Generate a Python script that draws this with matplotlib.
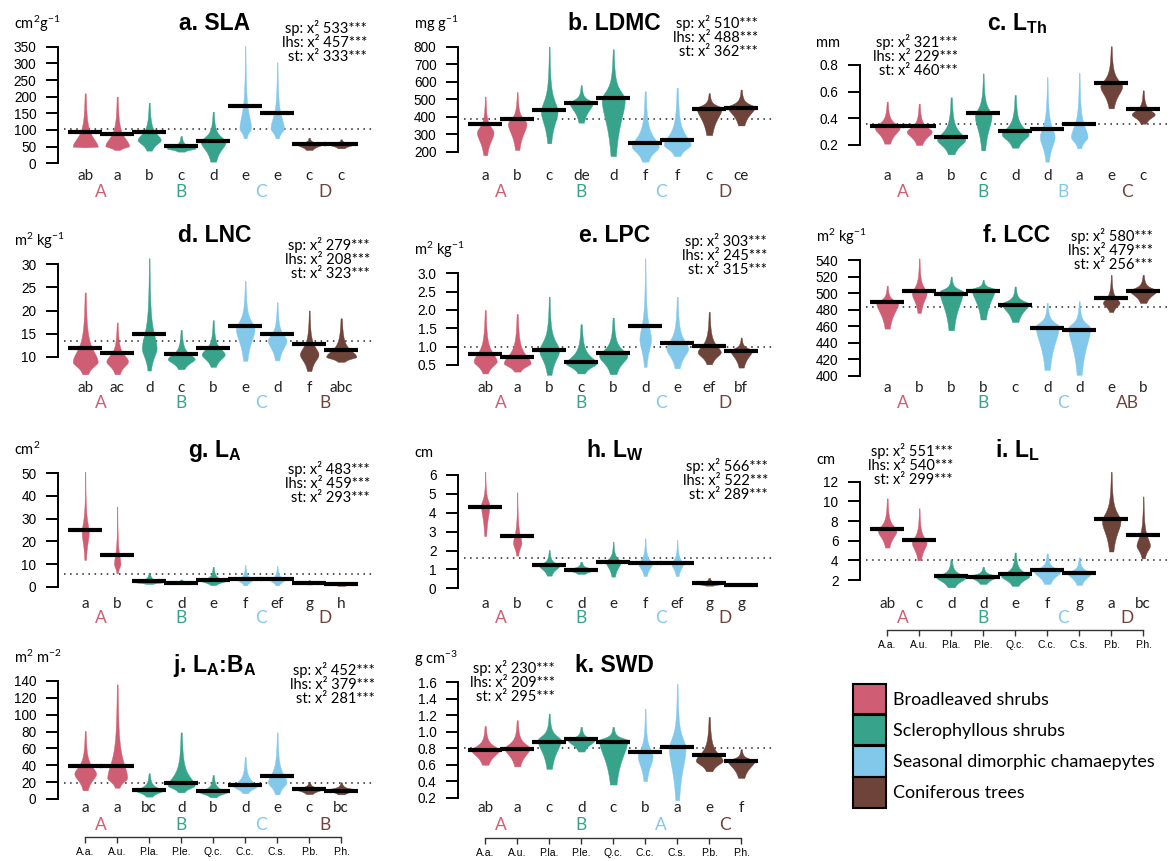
import numpy as np
import matplotlib.pyplot as plt
from matplotlib.patches import Patch
from matplotlib.ticker import FormatStrFormatter
from matplotlib import transforms

plt.rcParams['font.family'] = ['Liberation Sans', 'DejaVu Sans']
plt.rcParams['mathtext.fontset'] = 'custom'
plt.rcParams['mathtext.rm'] = 'Lato'
plt.rcParams['mathtext.it'] = 'Lato:italic'
plt.rcParams['mathtext.bf'] = 'Liberation Sans:bold'

# species and functional groups
species = ['A.a.', 'A.u.', 'P.la.', 'P.le.', 'Q.c.', 'C.c.', 'C.s.', 'P.b.', 'P.h.']
group = [0, 0, 1, 1, 1, 2, 2, 3, 3]
group_names = ['Broadleaved shrubs', 'Sclerophyllous shrubs',
               'Seasonal dimorphic chamaepytes', 'Coniferous trees']
colors = ['#CF5E74', '#37A38A', '#82C8EA', '#6E433A']
group_x = [1.5, 4, 6.5, 8.5]

# a. SLA
sla_mean = [95, 88, 93, 53, 66, 172, 152, 57, 58]
sla_lo = [48, 40, 38, 35, 5, 75, 75, 40, 45]
sla_mode = [50, 52, 70, 45, 65, 105, 105, 58, 58]
sla_hi = [210, 200, 182, 82, 155, 352, 303, 77, 72]
sla_wid = [0.39, 0.37, 0.36, 0.45, 0.39, 0.18, 0.21, 0.42, 0.44]
sla_letters = ['ab', 'a', 'b', 'c', 'd', 'e', 'e', 'c', 'c']
sla_groups = ['A', 'B', 'C', 'D']
sla_chi = [533, 457, 333]
sla_all = 102

# b. LDMC
ldmc_mean = [358, 385, 440, 480, 505, 252, 268, 445, 452]
ldmc_lo = [180, 210, 248, 366, 175, 143, 175, 295, 350]
ldmc_mode = [310, 360, 430, 480, 500, 230, 240, 450, 455]
ldmc_hi = [515, 540, 800, 580, 785, 545, 565, 535, 555]
ldmc_wid = [0.26, 0.29, 0.26, 0.36, 0.36, 0.42, 0.42, 0.39, 0.42]
ldmc_letters = ['a', 'b', 'c', 'de', 'd', 'f', 'f', 'c', 'ce']
ldmc_groups = ['A', 'B', 'C', 'D']
ldmc_chi = [510, 488, 362]
ldmc_all = 388

# c. leaf thickness
lth_mean = [0.343, 0.34, 0.26, 0.437, 0.305, 0.32, 0.36, 0.667, 0.47]
lth_lo = [0.21, 0.2, 0.13, 0.16, 0.18, 0.075, 0.175, 0.475, 0.36]
lth_mode = [0.33, 0.3, 0.24, 0.42, 0.28, 0.26, 0.26, 0.64, 0.43]
lth_hi = [0.525, 0.51, 0.557, 0.737, 0.575, 0.71, 0.74, 0.94, 0.61]
lth_wid = [0.39, 0.39, 0.44, 0.26, 0.42, 0.23, 0.26, 0.34, 0.36]
lth_letters = ['a', 'a', 'b', 'c', 'd', 'd', 'a', 'e', 'c']
lth_groups = ['A', 'B', 'B', 'C']
lth_chi = [321, 229, 460]
lth_all = 0.357

# d. LNC
lnc_mean = [11.8, 10.9, 14.9, 10.6, 11.95, 16.6, 14.9, 12.7, 11.5]
lnc_lo = [6.2, 6.2, 7.0, 7.3, 7.8, 9.1, 9.2, 6.9, 8.9]
lnc_mode = [8.9, 9.0, 11.8, 9.5, 10.5, 16.0, 13.5, 10.5, 10.0]
lnc_hi = [23.9, 17.4, 31.3, 15.8, 17.9, 26.4, 21.8, 20.0, 18.3]
lnc_wid = [0.39, 0.34, 0.23, 0.42, 0.36, 0.29, 0.29, 0.29, 0.47]
lnc_letters = ['ab', 'ac', 'd', 'c', 'b', 'e', 'd', 'f', 'abc']
lnc_groups = ['A', 'B', 'C', 'B']
lnc_chi = [279, 208, 323]
lnc_all = 13.4

# e. LPC
lpc_mean = [0.79, 0.73, 0.91, 0.59, 0.84, 1.55, 1.09, 1.03, 0.88]
lpc_lo = [0.27, 0.32, 0.23, 0.27, 0.25, 0.45, 0.41, 0.52, 0.43]
lpc_mode = [0.6, 0.55, 0.9, 0.55, 0.75, 1.2, 0.95, 0.85, 0.9]
lpc_hi = [2.0, 1.89, 2.36, 1.61, 1.79, 3.41, 2.36, 1.95, 1.25]
lpc_wid = [0.36, 0.42, 0.31, 0.48, 0.44, 0.18, 0.34, 0.36, 0.34]
lpc_letters = ['ab', 'a', 'b', 'c', 'b', 'd', 'e', 'ef', 'bf']
lpc_groups = ['A', 'B', 'C', 'D']
lpc_chi = [303, 245, 315]
lpc_all = 1.0

# f. LCC
lcc_mean = [489, 502, 499, 502.5, 486, 458, 455, 494, 502.5]
lcc_lo = [457, 476, 455, 468, 465, 407, 401, 477, 488]
lcc_mode = [488, 500, 502, 505, 487, 460, 458, 488, 503]
lcc_hi = [509, 542, 520, 516, 508, 488, 490, 522, 522]
lcc_wid = [0.34, 0.23, 0.36, 0.36, 0.42, 0.36, 0.34, 0.26, 0.42]
lcc_letters = ['a', 'b', 'b', 'b', 'c', 'd', 'd', 'e', 'b']
lcc_groups = ['A', 'B', 'C', 'AB']
lcc_chi = [580, 479, 256]
lcc_all = 483.5

# g. leaf area
la_mean = [25, 14, 2.5, 1.8, 3.1, 3.5, 3.5, 1.6, 1.0]
la_lo = [11.8, 5.9, 1.2, 1.2, 0.7, 0.6, 0.6, 1.0, 0.4]
la_mode = [24, 10, 2.0, 2.0, 2.5, 3.0, 3.0, 1.8, 1.1]
la_hi = [50.7, 35.3, 6.2, 3.2, 8.8, 9.5, 9.1, 2.9, 1.8]
la_wid = [0.11, 0.10, 0.44, 0.47, 0.36, 0.23, 0.23, 0.39, 0.42]
la_letters = ['a', 'b', 'c', 'd', 'e', 'f', 'ef', 'g', 'h']
la_groups = ['A', 'B', 'C', 'D']
la_chi = [483, 459, 293]
la_all = 5.6

# h. leaf width
lw_mean = [4.29, 2.79, 1.24, 0.97, 1.41, 1.32, 1.36, 0.26, 0.18]
lw_lo = [2.77, 1.73, 0.67, 0.76, 0.62, 0.65, 0.65, 0.14, 0.14]
lw_mode = [4.4, 2.4, 1.2, 1.0, 1.4, 1.3, 1.3, 0.25, 0.2]
lw_hi = [6.18, 5.08, 2.03, 1.41, 2.47, 2.65, 2.56, 0.56, 0.3]
lw_wid = [0.13, 0.13, 0.31, 0.47, 0.23, 0.21, 0.18, 0.47, 0.42]
lw_letters = ['a', 'b', 'c', 'd', 'e', 'f', 'ef', 'g', 'g']
lw_groups = ['A', 'B', 'C', 'D']
lw_chi = [566, 522, 289]
lw_all = 1.59

# i. leaf length
ll_mean = [7.15, 6.1, 2.44, 2.35, 2.6, 3.0, 2.75, 8.2, 6.6]
ll_lo = [5.3, 4.0, 1.25, 1.6, 1.4, 1.6, 1.5, 4.9, 4.2]
ll_mode = [7.0, 5.8, 2.3, 2.4, 2.4, 2.9, 2.7, 8.0, 5.5]
ll_hi = [10.3, 9.3, 4.1, 3.35, 4.8, 4.7, 4.3, 13.0, 10.5]
ll_wid = [0.29, 0.23, 0.47, 0.44, 0.44, 0.42, 0.36, 0.29, 0.21]
ll_letters = ['ab', 'c', 'd', 'd', 'e', 'f', 'g', 'a', 'bc']
ll_groups = ['A', 'B', 'C', 'D']
ll_chi = [551, 540, 299]
ll_all = 4.0

# j. leaf area : basal area
lab_mean = [39, 39, 10.3, 18.6, 9.5, 16.6, 27.7, 11.5, 9.9]
lab_lo = [10.3, 13.4, 2.8, 7.9, 2.0, 6.7, 5.5, 5.9, 5.5]
lab_mode = [30, 25, 10, 16, 8, 15, 20, 12, 11]
lab_hi = [80.7, 136, 30.5, 79, 28.5, 50, 79, 20.6, 19.8]
lab_wid = [0.34, 0.31, 0.42, 0.42, 0.42, 0.36, 0.29, 0.44, 0.47]
lab_letters = ['a', 'a', 'bc', 'd', 'b', 'd', 'e', 'c', 'bc']
lab_groups = ['A', 'B', 'C', 'B']
lab_chi = [452, 379, 281]
lab_all = 19.4

# k. SWD
swd_mean = [0.78, 0.79, 0.87, 0.91, 0.87, 0.75, 0.81, 0.72, 0.65]
swd_lo = [0.6, 0.58, 0.55, 0.76, 0.36, 0.4, 0.17, 0.52, 0.44]
swd_mode = [0.78, 0.8, 0.9, 0.9, 0.9, 0.7, 0.8, 0.65, 0.65]
swd_hi = [1.07, 1.14, 1.22, 1.06, 1.06, 1.28, 1.58, 1.18, 0.79]
swd_wid = [0.44, 0.39, 0.36, 0.42, 0.44, 0.23, 0.26, 0.42, 0.42]
swd_letters = ['ab', 'a', 'c', 'd', 'c', 'b', 'a', 'e', 'f']
swd_groups = ['A', 'B', 'A', 'C']
swd_chi = [230, 209, 295]
swd_all = 0.8

W, H = 1171, 861
SPINE = [58, 458, 860]
TITLE_Y = [30, 242, 457, 672]
LETTER_Y = [180, 392, 608, 812]
GROUP_Y = [197, 408, 623, 830]
MYR = ['Lato', 'DejaVu Sans']


def fx(px):
    return px / W


def fy(py):
    return 1 - py / H


panels = [
    dict(title='a. SLA', unit=r'cm$^2$g$^{-1}$', row=0, col=0,
         mean=sla_mean, lo=sla_lo, mode=sla_mode, hi=sla_hi, wid=sla_wid,
         letters=sla_letters, groups=sla_groups, chi=sla_chi, overall=sla_all,
         ticks=[0, 50, 100, 150, 200, 250, 300, 350], fmt='%d',
         tick_px=(46.7, 163.3), stat=(367, 33), axis_y=None),
    dict(title='b. LDMC', unit=r'mg g$^{-1}$', row=0, col=1,
         mean=ldmc_mean, lo=ldmc_lo, mode=ldmc_mode, hi=ldmc_hi, wid=ldmc_wid,
         letters=ldmc_letters, groups=ldmc_groups, chi=ldmc_chi, overall=ldmc_all,
         ticks=[200, 300, 400, 500, 600, 700, 800], fmt='%d',
         tick_px=(46.7, 151.7), stat=(758, 28), axis_y=None),
    dict(title=r'c. $\mathbf{L_{Th}}$', unit='mm', row=0, col=2,
         mean=lth_mean, lo=lth_lo, mode=lth_mode, hi=lth_hi, wid=lth_wid,
         letters=lth_letters, groups=lth_groups, chi=lth_chi, overall=lth_all,
         ticks=[0.2, 0.4, 0.6, 0.8], fmt='%.1f',
         tick_px=(65, 145), stat=(958, 47), axis_y=None),
    dict(title='d. LNC', unit=r'm$^2$ kg$^{-1}$', row=1, col=0,
         mean=lnc_mean, lo=lnc_lo, mode=lnc_mode, hi=lnc_hi, wid=lnc_wid,
         letters=lnc_letters, groups=lnc_groups, chi=lnc_chi, overall=lnc_all,
         ticks=[10, 15, 20, 25, 30], fmt='%d',
         tick_px=(264.3, 356.7), stat=(370, 250), axis_y=None),
    dict(title='e. LPC', unit=r'm$^2$ kg$^{-1}$', row=1, col=1,
         mean=lpc_mean, lo=lpc_lo, mode=lpc_mode, hi=lpc_hi, wid=lpc_wid,
         letters=lpc_letters, groups=lpc_groups, chi=lpc_chi, overall=lpc_all,
         ticks=[0.5, 1.0, 1.5, 2.0, 2.5, 3.0], fmt='%.1f',
         tick_px=(273.3, 365), stat=(767, 246), axis_y=None),
    dict(title='f. LCC', unit=r'm$^2$ kg$^{-1}$', row=1, col=2,
         mean=lcc_mean, lo=lcc_lo, mode=lcc_mode, hi=lcc_hi, wid=lcc_wid,
         letters=lcc_letters, groups=lcc_groups, chi=lcc_chi, overall=lcc_all,
         ticks=[400, 420, 440, 460, 480, 500, 520, 540], fmt='%d',
         tick_px=(260, 375.7), stat=(1153, 241), axis_y=None),
    dict(title=r'g. $\mathbf{L_A}$', unit=r'cm$^2$', row=2, col=0,
         mean=la_mean, lo=la_lo, mode=la_mode, hi=la_hi, wid=la_wid,
         letters=la_letters, groups=la_groups, chi=la_chi, overall=la_all,
         ticks=[0, 10, 20, 30, 40, 50], fmt='%d',
         tick_px=(473.3, 586.7), stat=(370, 474), axis_y=None),
    dict(title=r'h. $\mathbf{L_W}$', unit='cm', row=2, col=1,
         mean=lw_mean, lo=lw_lo, mode=lw_mode, hi=lw_hi, wid=lw_wid,
         letters=lw_letters, groups=lw_groups, chi=lw_chi, overall=lw_all,
         ticks=[0, 1, 2, 3, 4, 5, 6], fmt='%d',
         tick_px=(475, 588.3), stat=(768, 471), axis_y=None),
    dict(title=r'i. $\mathbf{L_L}$', unit='cm', row=2, col=2,
         mean=ll_mean, lo=ll_lo, mode=ll_mode, hi=ll_hi, wid=ll_wid,
         letters=ll_letters, groups=ll_groups, chi=ll_chi, overall=ll_all,
         ticks=[2, 4, 6, 8, 10, 12], fmt='%d',
         tick_px=(481.7, 580), stat=(953, 456), axis_y=630),
    dict(title=r'j. $\mathbf{L_A}$:$\mathbf{B_A}$', unit=r'm$^2$ m$^{-2}$', row=3, col=0,
         mean=lab_mean, lo=lab_lo, mode=lab_mode, hi=lab_hi, wid=lab_wid,
         letters=lab_letters, groups=lab_groups, chi=lab_chi, overall=lab_all,
         ticks=[0, 20, 40, 60, 80, 100, 120, 140], fmt='%d',
         tick_px=(681, 799), stat=(375, 675), axis_y=837),
    dict(title='k. SWD', unit=r'g cm$^{-3}$', row=3, col=1,
         mean=swd_mean, lo=swd_lo, mode=swd_mode, hi=swd_hi, wid=swd_wid,
         letters=swd_letters, groups=swd_groups, chi=swd_chi, overall=swd_all,
         ticks=[0.2, 0.4, 0.6, 0.8, 1.0, 1.2, 1.4, 1.6], fmt='%.1f',
         tick_px=(682.3, 797.7), stat=(555, 673), axis_y=838),
]


def violin(ax, x, lo, mode, hi, wid, color):
    # smooth outline: widest at the mode, thin tail towards the extremes
    y = np.linspace(lo, hi, 400)
    up = max(hi - mode, 1e-9) * 0.22
    dn = max(mode - lo, 1e-9) * 0.55
    d = y - mode
    s = np.where(d > 0, up, dn)
    w = wid / (1 + (d / s) ** 2)
    ax.fill_betweenx(y, x - w, x + w, facecolor=color, edgecolor=color,
                     lw=0.3, zorder=2)


fig = plt.figure(figsize=(W / 100, H / 100), dpi=100)

for p in panels:
    spine = SPINE[p['col']]
    t_px, b_px = p['tick_px']
    vb, vt = p['ticks'][0], p['ticks'][-1]
    sc = (b_px - t_px) / (vt - vb)
    top, bot = t_px - 34, b_px + 28
    ax = fig.add_axes([fx(spine), fy(bot), 313.6 / W, (bot - top) / H])
    ax.set_xlim(0.15, 9.95)
    ax.set_ylim(vb - (bot - b_px) / sc, vt + (t_px - top) / sc)
    ax.patch.set_visible(False)
    for s in ['top', 'right', 'bottom']:
        ax.spines[s].set_visible(False)
    ax.spines['left'].set_bounds(vb, vt)
    ax.spines['left'].set_linewidth(1.4)
    ax.set_yticks(p['ticks'])
    ax.yaxis.set_major_formatter(FormatStrFormatter(p['fmt']))
    ax.tick_params(axis='y', length=8.5, width=1.4, pad=7, labelsize=9.8)
    ax.set_xticks([])

    # overall mean
    ax.hlines(p['overall'], 0.35, 9.95, colors='#222222',
              linestyles=(0, (1, 3)), lw=1.1, zorder=1)

    for i in range(9):
        x = i + 1
        violin(ax, x, p['lo'][i], p['mode'][i], p['hi'][i], p['wid'][i],
               colors[group[i]])
        ax.hlines(p['mean'][i], x - 0.53, x + 0.53, colors='black', lw=3,
                  zorder=3)

    trans = transforms.blended_transform_factory(ax.transData, fig.transFigure)
    for i, lab in enumerate(p['letters']):
        ax.text(i + 1, fy(LETTER_Y[p['row']]), lab, transform=trans,
                ha='center', va='baseline', fontsize=11, family=MYR,
                color='#222222')
    for g, lab in enumerate(p['groups']):
        ax.text(group_x[g], fy(GROUP_Y[p['row']]), lab, transform=trans,
                ha='center', va='baseline', fontsize=12.5, family=MYR,
                color=colors[g])

    if p['axis_y'] is not None:
        sp = ax.spines['bottom']
        sp.set_visible(True)
        sp.set_bounds(1, 9)
        sp.set_position(('outward', (p['axis_y'] - bot) * 0.72))
        sp.set_linewidth(1.0)
        sp.set_color('#333333')
        ax.set_xticks(range(1, 10))
        ax.set_xticklabels(species)
        ax.tick_params(axis='x', length=4.5, width=1.0, pad=2.5,
                       labelsize=7.5, color='#333333')

    cx = spine + 313.6 / 2
    fig.text(fx(cx), fy(TITLE_Y[p['row']]), p['title'], ha='center',
             va='baseline', fontsize=16.5, fontweight='bold')
    fig.text(fx(spine - 44), fy(t_px - 18), p['unit'], ha='left',
             va='baseline', fontsize=10.5, family=MYR)
    sx, sy = p['stat']
    for k, (name, v) in enumerate(zip(['sp', 'lhs', 'st'], p['chi'])):
        fig.text(fx(sx), fy(sy + 14 * k), f'{name}: x\u00b2 {v}***',
                 ha='right', va='baseline', fontsize=10.5, family=MYR)

handles = [Patch(facecolor=c, edgecolor='black', lw=1.5) for c in colors]
fig.legend(handles, group_names, loc='upper left',
           bbox_to_anchor=(fx(853), fy(684)), frameon=False,
           prop={'family': 'Lato', 'size': 13}, handlelength=1.85,
           handleheight=2.2, handletextpad=0.35, labelspacing=0.05,
           borderpad=0, borderaxespad=0)

fig.savefig('out.png', dpi=100, facecolor='white')
